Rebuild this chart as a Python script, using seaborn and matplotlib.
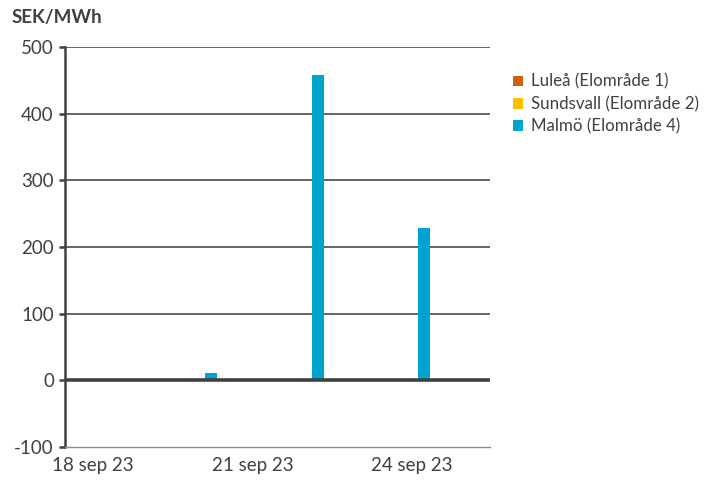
import matplotlib
matplotlib.use("Agg")
import matplotlib.pyplot as plt
import seaborn as sns
import pandas as pd

dates = ["18 sep 23", "19 sep 23", "20 sep 23", "21 sep 23",
         "22 sep 23", "23 sep 23", "24 sep 23", "25 sep 23"]
series = ["Luleå (Elområde 1)", "Sundsvall (Elområde 2)", "Malmö (Elområde 4)"]
lulea = [0, 0, 0, 0, 0, 0, 0, 0]
sundsvall = [0, 0, 0, 0, 0, 0, 0, 0]
malmo = [0, 0, 11, 0, 458, 0, 229, 0]
colors = ["#D0610E", "#FFC000", "#00A5CF"]
yticks = [-100, 0, 100, 200, 300, 400, 500]
xtick_idx = [0, 3, 6]

rows = []
for name, vals in zip(series, [lulea, sundsvall, malmo]):
    for d, v in zip(dates, vals):
        rows.append({"date": d, "series": name, "value": v})
df = pd.DataFrame(rows)

sns.set_style("white")
plt.rcParams["font.family"] = ["Lato", "DejaVu Sans"]

fig = plt.figure(figsize=(7.08, 4.82), dpi=100)
ax = fig.add_axes([65 / 708, 1 - 447 / 482, (490 - 65) / 708, (447 - 47) / 482])

sns.barplot(data=df, x="date", y="value", hue="series", order=dates,
            hue_order=series, palette=colors, width=0.68, saturation=1,
            ax=ax, legend=True)
for p in ax.patches:
    p.set_linewidth(0)

ax.set_ylim(-100, 500)
ax.set_xlim(-0.53, len(dates) - 0.53)
ax.set_yticks(yticks)
ax.set_yticklabels([str(t) for t in yticks])
ax.set_xticks(xtick_idx)
ax.set_xticklabels([dates[i] for i in xtick_idx])
ax.set_xlabel("")
ax.set_ylabel("")

tc = "#404040"
for t in [100, 200, 300, 400, 500]:
    ax.axhline(t, color="#3a3a3a", lw=1.1, zorder=0)
ax.axhline(0, color="#404040", lw=2.6, zorder=5)

for s in ["top", "right"]:
    ax.spines[s].set_visible(False)
ax.spines["left"].set_color("#404040")
ax.spines["left"].set_linewidth(1.8)
ax.spines["bottom"].set_color("#8c8c8c")
ax.spines["bottom"].set_linewidth(1.0)

ax.tick_params(axis="y", direction="out", length=4, width=1.8, color="#404040",
               labelsize=13.5, labelcolor=tc, pad=4, left=True)
ax.tick_params(axis="x", length=0, labelsize=13.5, labelcolor=tc, pad=7)

fig.text(12 / 708, 1 - 17 / 482, "SEK/MWh", fontsize=13.5, fontweight="bold",
         color=tc, va="center", ha="left")

handles, labels = ax.get_legend_handles_labels()
ax.legend(handles, labels, loc="upper left", bbox_to_anchor=(1.038, 0.95),
          frameon=False, fontsize=12.2, labelcolor=tc, handlelength=0.6,
          handleheight=0.6, handletextpad=0.45, labelspacing=0.36,
          borderaxespad=0)

fig.savefig("out.png", dpi=100)
